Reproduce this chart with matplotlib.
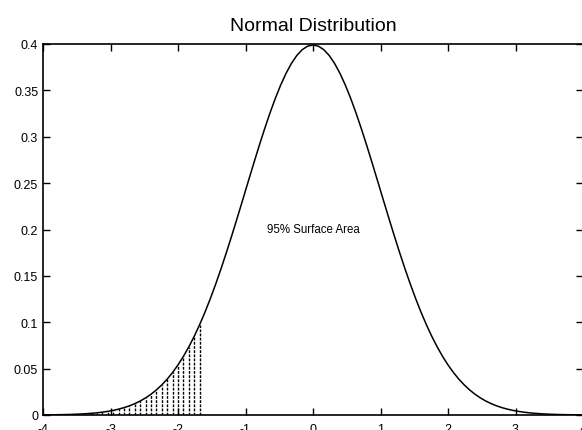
import numpy as np
import matplotlib
matplotlib.use("Agg")
import matplotlib.pyplot as plt

plt.rcParams['font.family'] = ['Liberation Sans', 'DejaVu Sans']

# density, right half (x = 0, 0.08, ... 4.0); the curve is symmetric
half_x = [0.00, 0.08, 0.16, 0.24, 0.32, 0.40, 0.48, 0.56, 0.64, 0.72,
          0.80, 0.88, 0.96, 1.04, 1.12, 1.20, 1.28, 1.36, 1.44, 1.52,
          1.60, 1.68, 1.76, 1.84, 1.92, 2.00, 2.08, 2.16, 2.24, 2.32,
          2.40, 2.48, 2.56, 2.64, 2.72, 2.80, 2.88, 2.96, 3.04, 3.12,
          3.20, 3.28, 3.36, 3.44, 3.52, 3.60, 3.68, 3.76, 3.84, 3.92, 4.00]
half_y = [0.39894, 0.39767, 0.39387, 0.38762, 0.37903, 0.36827, 0.35553, 0.34105, 0.32506, 0.30785,
          0.28969, 0.27086, 0.25164, 0.23230, 0.21307, 0.19419, 0.17585, 0.15823, 0.14146, 0.12566,
          0.11092, 0.09729, 0.08478, 0.07341, 0.06316, 0.05399, 0.04587, 0.03870, 0.03246, 0.02705,
          0.02239, 0.01842, 0.01506, 0.01223, 0.00987, 0.00792, 0.00631, 0.00499, 0.00393, 0.00307,
          0.00238, 0.00184, 0.00141, 0.00107, 0.00081, 0.00061, 0.00046, 0.00034, 0.00025, 0.00018, 0.00013]

tail_cut = -1.645  # lower 5% tail is hatched
title = "Normal Distribution"
note = "95% Surface Area"
xticks = [-4, -3, -2, -1, 0, 1, 2, 3, 4]
yticks = [0, 0.05, 0.1, 0.15, 0.2, 0.25, 0.3, 0.35, 0.4]
ytick_labels = ["0", "0.05", "0.1", "0.15", "0.2", "0.25", "0.3", "0.35", "0.4"]

x = np.concatenate([-np.array(half_x[:0:-1]), np.array(half_x)])
y = np.concatenate([np.array(half_y[:0:-1]), np.array(half_y)])

fig = plt.figure(figsize=(5.82, 4.31), dpi=100)
ax = fig.add_axes([43 / 582, 1 - 416 / 431, 540 / 582, 371 / 431])

tail = x <= tail_cut
ax.vlines(x[tail], 0, y[tail], colors='black', linewidth=1.0, linestyles=(0, (2, 1)))
ax.plot(x, y, color='black', linewidth=1.1)

ax.text(0, 0.2, note, ha='center', va='center', fontsize=8.3)
ax.set_title(title, fontsize=14, pad=10)

ax.set_xlim(-4, 4)
ax.set_ylim(0, 0.4)
ax.set_xticks(xticks)
ax.set_xticklabels([str(t) for t in xticks])
ax.set_yticks(yticks)
ax.set_yticklabels(ytick_labels)
ax.tick_params(direction='in', length=5, width=1.0, top=True, right=True, labelsize=9)
ax.tick_params(axis='x', pad=6)
ax.tick_params(axis='y', pad=3.5)
for s in ax.spines.values():
    s.set_linewidth(1.2)

fig.savefig("out.png", dpi=100)
